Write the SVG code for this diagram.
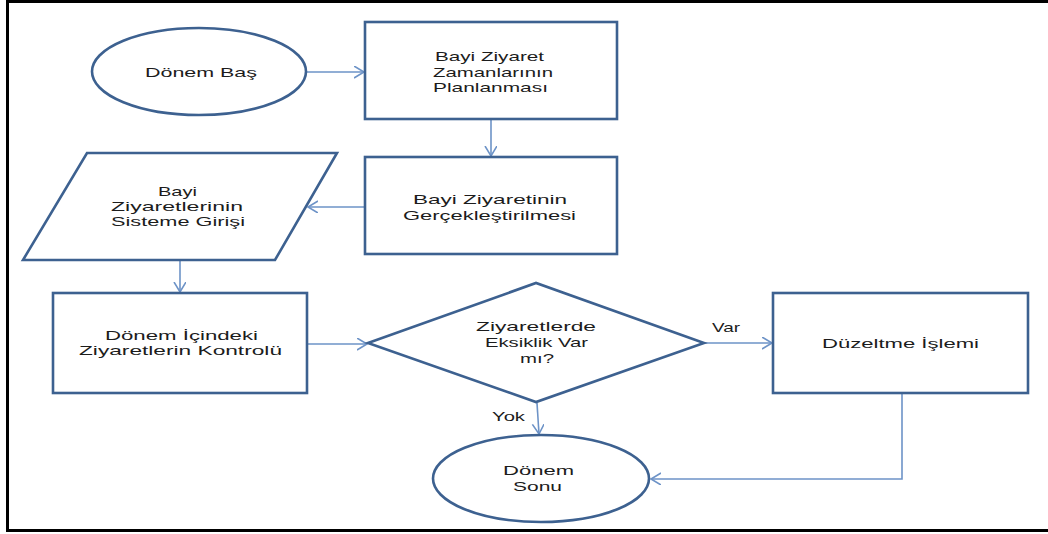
<svg xmlns="http://www.w3.org/2000/svg" width="1048" height="534" viewBox="0 0 1048 534">
  <style>
    .shape { fill: #ffffff; stroke: #3d6190; stroke-width: 2.6; }
    .conn { fill: none; stroke: #6d93c7; stroke-width: 1.6; }
    .lbl { font-family: "Liberation Sans", Arial, sans-serif; font-size: 13px; fill: #1c1c1c; text-anchor: middle; }
    .frame { fill: none; stroke: #000000; stroke-width: 3; }
  </style>
  <defs>
    <marker id="arr" markerUnits="userSpaceOnUse" markerWidth="12" markerHeight="14" refX="10" refY="6" orient="auto">
      <path d="M0,0 L10,6 L0,12" fill="none" stroke="#6d93c7" stroke-width="1.6"/>
    </marker>
  </defs>
  <rect width="1048" height="534" fill="#ffffff"/>
  <path class="frame" d="M1048,1.5 L7.5,1.5 L7.5,530.5 L1048,530.5"/>

  <g id="connectors">
    <line class="conn" x1="306" y1="72" x2="364" y2="72" marker-end="url(#arr)"/>
    <line class="conn" x1="491" y1="120" x2="491" y2="156" marker-end="url(#arr)"/>
    <line class="conn" x1="364" y1="207" x2="308" y2="207" marker-end="url(#arr)"/>
    <line class="conn" x1="180" y1="261" x2="180" y2="292" marker-end="url(#arr)"/>
    <line class="conn" x1="308" y1="344" x2="367" y2="344" marker-end="url(#arr)"/>
    <line class="conn" x1="705" y1="343" x2="772" y2="343" marker-end="url(#arr)"/>
    <line class="conn" x1="537" y1="403" x2="539" y2="434" marker-end="url(#arr)"/>
    <polyline class="conn" points="902,394 902,479 651,479" marker-end="url(#arr)"/>
    <text class="lbl" x="726" y="332" textLength="28" lengthAdjust="spacingAndGlyphs">Var</text>
    <text class="lbl" x="508.5" y="421" textLength="33" lengthAdjust="spacingAndGlyphs">Yok</text>
  </g>

  <g id="donem-bas">
    <ellipse class="shape" cx="199" cy="71.5" rx="107" ry="43.5"/>
    <text class="lbl" x="201" y="77" textLength="112" lengthAdjust="spacingAndGlyphs">Dönem Baş</text>
  </g>

  <g id="planlama">
    <rect class="shape" x="365" y="22" width="252" height="97"/>
    <text class="lbl" x="489.5" y="61" textLength="109" lengthAdjust="spacingAndGlyphs">Bayi Ziyaret</text>
    <text class="lbl" x="493" y="76.5" textLength="120" lengthAdjust="spacingAndGlyphs">Zamanlarının</text>
    <text class="lbl" x="490.5" y="92" textLength="115" lengthAdjust="spacingAndGlyphs">Planlanması</text>
  </g>

  <g id="gerceklestirme">
    <rect class="shape" x="365" y="157" width="252" height="97"/>
    <text class="lbl" x="490" y="204" textLength="154" lengthAdjust="spacingAndGlyphs">Bayi Ziyaretinin</text>
    <text class="lbl" x="489.5" y="219.5" textLength="173" lengthAdjust="spacingAndGlyphs">Gerçekleştirilmesi</text>
  </g>

  <g id="sisteme-giris">
    <polygon class="shape" points="87,153 337,153 275,260 23,260"/>
    <text class="lbl" x="177.5" y="196" textLength="39" lengthAdjust="spacingAndGlyphs">Bayi</text>
    <text class="lbl" x="177" y="211" textLength="132" lengthAdjust="spacingAndGlyphs">Ziyaretlerinin</text>
    <text class="lbl" x="178" y="226" textLength="134" lengthAdjust="spacingAndGlyphs">Sisteme Girişi</text>
  </g>

  <g id="kontrol">
    <rect class="shape" x="53" y="293" width="254" height="100"/>
    <text class="lbl" x="181.5" y="340" textLength="153" lengthAdjust="spacingAndGlyphs">Dönem İçindeki</text>
    <text class="lbl" x="180.5" y="355" textLength="203" lengthAdjust="spacingAndGlyphs">Ziyaretlerin Kontrolü</text>
  </g>

  <g id="eksiklik">
    <polygon class="shape" points="368,343 536,283 704,343 536,402"/>
    <text class="lbl" x="536" y="331" textLength="120" lengthAdjust="spacingAndGlyphs">Ziyaretlerde</text>
    <text class="lbl" x="536.5" y="347" textLength="103" lengthAdjust="spacingAndGlyphs">Eksiklik Var</text>
    <text class="lbl" x="537" y="363" textLength="34" lengthAdjust="spacingAndGlyphs">mı?</text>
  </g>

  <g id="duzeltme">
    <rect class="shape" x="773" y="293" width="255" height="100"/>
    <text class="lbl" x="900.5" y="348" textLength="157" lengthAdjust="spacingAndGlyphs">Düzeltme İşlemi</text>
  </g>

  <g id="donem-sonu">
    <ellipse class="shape" cx="541" cy="478.5" rx="108" ry="43.5"/>
    <text class="lbl" x="538.5" y="475" textLength="71" lengthAdjust="spacingAndGlyphs">Dönem</text>
    <text class="lbl" x="537.5" y="491" textLength="49" lengthAdjust="spacingAndGlyphs">Sonu</text>
  </g>
</svg>
